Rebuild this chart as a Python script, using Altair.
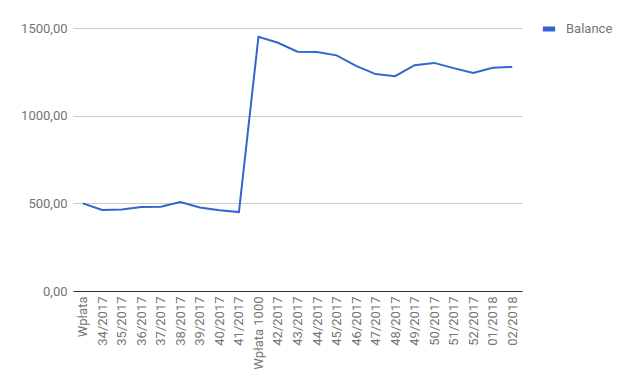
import altair as alt
import pandas as pd

categories = ["Wpłata", "34/2017", "35/2017", "36/2017", "37/2017", "38/2017", "39/2017",
              "40/2017", "41/2017", "Wpłata 1000", "42/2017", "43/2017", "44/2017", "45/2017",
              "46/2017", "47/2017", "48/2017", "49/2017", "50/2017", "51/2017", "52/2017",
              "01/2018", "02/2018"]
balance = [500, 462, 465, 479, 481, 507, 476, 460, 450, 1450, 1416, 1365, 1363, 1344,
           1284, 1237, 1225, 1288, 1301, 1271, 1243, 1273, 1278]

df = pd.DataFrame({"cat": categories, "value": balance, "series": ["Balance"] * len(categories)})

label_font = "Roboto"
gray = "#757575"

chart = alt.Chart(df).mark_line(strokeWidth=2).encode(
    x=alt.X("cat:N", sort=categories, title=None,
            scale=alt.Scale(paddingOuter=0.5),
            axis=alt.Axis(labelAngle=-90, labelAlign="right", labelBaseline="middle",
                          labelPadding=5, ticks=False, domainColor="#333333",
                          labelColor=gray, labelFont=label_font, labelFontSize=13,
                          grid=False)),
    y=alt.Y("value:Q", title=None,
            scale=alt.Scale(domain=[0, 1500], nice=False),
            axis=alt.Axis(values=[0, 500, 1000, 1500], domain=False, ticks=False,
                          labelPadding=6, labelColor=gray, labelFont=label_font,
                          labelFontSize=13, gridColor="#cccccc",
                          labelExpr="replace(format(datum.value, '.2f'), '.', ',')")),
    color=alt.Color("series:N", scale=alt.Scale(range=["#3366cc"]), title=None,
                    legend=alt.Legend(orient="none", legendX=467, legendY=-8,
                                      symbolType="stroke", symbolStrokeWidth=5,
                                      symbolSize=150, labelFont=label_font,
                                      labelFontSize=13, labelColor=gray,
                                      labelOffset=8)),
).properties(
    width=449, height=263,
    autosize=alt.AutoSizeParams(type="none"),
    padding={"left": 73, "top": 28, "right": 108, "bottom": 99},
).configure_view(stroke=None)

chart.save("out.html", embed_options={"renderer": "svg", "actions": False})
